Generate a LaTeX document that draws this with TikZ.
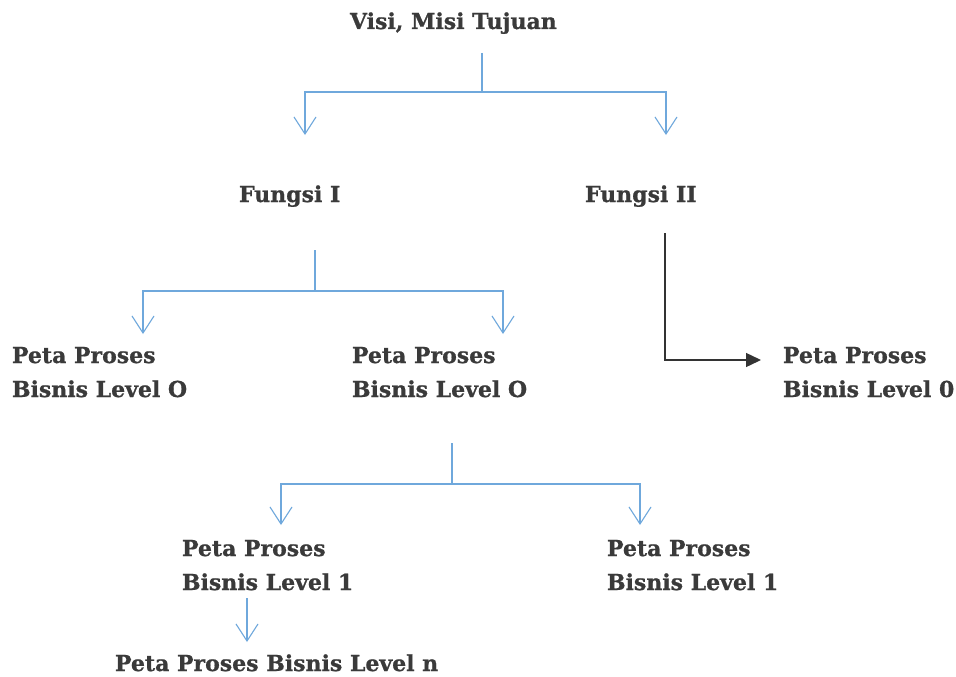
\documentclass[tikz,border=0pt]{standalone}
\usepackage{fontspec}
\setmainfont{DejaVu Serif}[BoldFeatures={FakeBold=0.8}]
\usetikzlibrary{arrows.meta}
\definecolor{textgray}{HTML}{3A3A3A}
\definecolor{linkblue}{HTML}{6FA8DC}
\definecolor{linkdark}{HTML}{333333}
\tikzset{
  txt/.style={font=\fontsize{22}{34}\selectfont\bfseries, text=textgray, inner sep=0pt, outer sep=0pt, anchor=base west},
  bline/.style={draw=linkblue, line width=1.2pt},
  barrow/.style={bline, -{Straight Barb[length=17pt,width=22pt,line width=1.1pt]}},
  darrow/.style={draw=linkdark, line width=1.4pt, -{Triangle[length=15pt,width=14pt]}}
}
\begin{document}
\begin{tikzpicture}[x=1pt,y=-1pt]
\useasboundingbox (0,0) rectangle (956,677);
\fill[white] (0,0) rectangle (956,677);
% texts
\node[txt] (visi) at (350,29) {Visi, Misi Tujuan};
\node[txt] (f1) at (239,202) {Fungsi I};
\node[txt] (f2) at (585,202) {Fungsi II};
\node[txt] (p0a) at (12,363) {Peta Proses};
\node[txt] (p0a2) at (12,397) {Bisnis Level O};
\node[txt] (p0b) at (352,363) {Peta Proses};
\node[txt] (p0b2) at (352,397) {Bisnis Level O};
\node[txt] (p0c) at (783,363) {Peta Proses};
\node[txt] (p0c2) at (783,397) {Bisnis Level 0};
\node[txt] (p1a) at (182,556) {Peta Proses};
\node[txt] (p1a2) at (182,590) {Bisnis Level 1};
\node[txt] (p1b) at (607,556) {Peta Proses};
\node[txt] (p1b2) at (607,590) {Bisnis Level 1};
\node[txt] (pn) at (115,671) {Peta Proses Bisnis Level n};
% connector points
\coordinate (t0) at (482,53);
\coordinate (t1) at (482,92);
\coordinate (tf1) at (305,135);
\coordinate (tf2) at (666,135);
\coordinate (u0) at (315,250);
\coordinate (u1) at (315,291);
\coordinate (ua) at (143,334);
\coordinate (ub) at (503,334);
\coordinate (m0) at (452,443);
\coordinate (m1) at (452,484);
\coordinate (ma) at (281,525);
\coordinate (mb) at (640,525);
\coordinate (n0) at (247,598);
\coordinate (n1) at (247,642);
\coordinate (k0) at (665,233);
\coordinate (k1) at (761,360);
% connectors
\draw[bline] (t0) -- (t1);
\draw[barrow] (t1) -| (tf1);
\draw[barrow] (t1) -| (tf2);
\draw[bline] (u0) -- (u1);
\draw[barrow] (u1) -| (ua);
\draw[barrow] (u1) -| (ub);
\draw[bline] (m0) -- (m1);
\draw[barrow] (m1) -| (ma);
\draw[barrow] (m1) -| (mb);
\draw[barrow] (n0) -- (n1);
\draw[darrow] (k0) |- (k1);
\end{tikzpicture}
\end{document}
